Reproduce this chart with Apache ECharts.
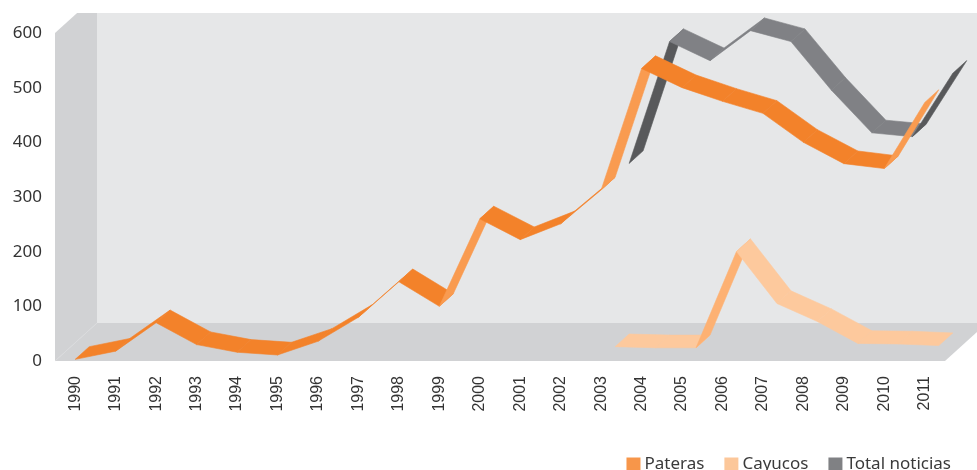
<!DOCTYPE html>
<html>
<head>
<meta charset="utf-8">
<script src="https://cdn.jsdelivr.net/npm/echarts@6/dist/echarts.min.js"></script>
<style>html,body{margin:0;padding:0;background:#fff}#c{width:977px;height:470px}</style>
</head>
<body>
<div id="c"></div>
<script>
// ---- data ----
const years = ['1990','1991','1992','1993','1994','1995','1996','1997','1998','1999','2000',
               '2001','2002','2003','2004','2005','2006','2007','2008','2009','2010','2011'];
const pateras = [3, 18, 70, 30, 16, 11, 36, 80, 145, 100, 260, 222, 251, 313, 535, 500, 475, 453, 400, 361, 352, 473];
const cayucos = [null, null, null, null, null, null, null, null, null, null, null, null, null,
                 3, 1, 1, 177, 82, 49, 9, 8, 5];
const totalNoticias = [null, null, null, null, null, null, null, null, null, null, null, null, null,
                 315, 538, 503, 558, 538, 449, 371, 364, 480];
const seriesNames = ['Pateras', 'Cayucos', 'Total noticias'];
const yMin = 0, yMax = 600, yStep = 100;

// ---- style / layout ----
const DEPTH_X = 42, DEPTH_Y = -38;          // full depth of the 3D box
const SLOTS = 3;
const SLOT_DX = DEPTH_X / SLOTS, SLOT_DY = DEPTH_Y / SLOTS;
const CLIP_TOP = 13;
const styles = {
  'Pateras':        { slot: 0, top: '#f3822a', under: '#f99b50', legend: '#f7964a' },
  'Cayucos':        { slot: 1, top: '#fdc99d', under: '#fdb173', legend: '#fcc79a' },
  'Total noticias': { slot: 2, top: '#808185', under: '#58595b', legend: '#808184' }
};

function segments(values) {
  const out = [];
  for (let i = 0; i < values.length - 1; i++) {
    if (values[i] != null && values[i + 1] != null) out.push([i, values[i], i + 1, values[i + 1]]);
  }
  return out;
}

function ribbonRender(name) {
  const st = styles[name];
  return function (params, api) {
    const a = api.coord([api.value(0), api.value(1)]);
    const b = api.coord([api.value(2), api.value(3)]);
    const k = st.slot;
    const fx = k * SLOT_DX, fy = k * SLOT_DY;
    const bx = (k + 1) * SLOT_DX, by = (k + 1) * SLOT_DY;
    const f0 = [a[0] + fx, a[1] + fy], f1 = [b[0] + fx, b[1] + fy];
    const b1 = [b[0] + bx, b[1] + by], b0 = [a[0] + bx, a[1] + by];
    const sx = b[0] - a[0], sy = b[1] - a[1];
    const cross = sx * SLOT_DY - sy * SLOT_DX;
    const col = cross < 0 ? st.top : st.under;
    return {
      type: 'polygon',
      shape: { points: [f0, f1, b1, b0] },
      style: { fill: col, stroke: col, lineWidth: 0.6 }
    };
  };
}

function wallsRender(params, api) {
  const cs = params.coordSys;
  const x = cs.x, y = cs.y, w = cs.width, h = cs.height;
  const t = (y - CLIP_TOP) / (-DEPTH_Y);
  const leftTopX = x + DEPTH_X * t;
  return {
    type: 'group',
    children: [
      { type: 'rect', shape: { x: x + DEPTH_X, y: CLIP_TOP, width: w + 10, height: y + h + DEPTH_Y - CLIP_TOP },
        style: { fill: '#e6e7e8' } },
      { type: 'polygon', shape: { points: [[x, y + h], [x, y], [leftTopX, CLIP_TOP], [x + DEPTH_X, CLIP_TOP], [x + DEPTH_X, y + h + DEPTH_Y]] },
        style: { fill: '#d1d2d4' } },
      { type: 'polygon', shape: { points: [[x, y + h], [x + w, y + h], [x + w + DEPTH_X, y + h + DEPTH_Y], [x + DEPTH_X, y + h + DEPTH_Y]] },
        style: { fill: '#d1d2d4' } },
      { type: 'line', shape: { x1: x, y1: y + h, x2: x + DEPTH_X, y2: y + h + DEPTH_Y },
        style: { stroke: '#dadbdd', lineWidth: 1 } }
    ]
  };
}

const chart = echarts.init(document.getElementById('c'), null, { renderer: 'canvas' });
const seriesData = { 'Pateras': pateras, 'Cayucos': cayucos, 'Total noticias': totalNoticias };

const ribbonSeries = ['Total noticias', 'Cayucos', 'Pateras'].map((name, idx) => ({
  type: 'custom',
  name: name,
  clip: false,
  z: 3 + idx,
  silent: true,
  itemStyle: { color: styles[name].legend },
  renderItem: ribbonRender(name),
  encode: { x: [0, 2], y: [1, 3] },
  data: segments(seriesData[name])
}));

chart.setOption({
  animation: false,
  backgroundColor: '#ffffff',
  grid: { left: 55, right: 32, top: 33, bottom: 109, containLabel: false },
  xAxis: {
    type: 'category',
    data: years,
    boundaryGap: true,
    axisLine: { show: false },
    axisTick: { show: false },
    splitLine: { show: false },
    axisLabel: {
      interval: 0, rotate: 90, margin: 15,
      fontFamily: 'Liberation Sans', fontSize: 16, color: '#333333'
    }
  },
  yAxis: {
    type: 'value',
    min: yMin, max: yMax, interval: yStep,
    axisLine: { show: false },
    axisTick: { show: false },
    splitLine: { show: false },
    axisLabel: { margin: 13, fontFamily: 'Noto Sans', fontSize: 17, color: '#333333' }
  },
  legend: {
    data: seriesNames.map(n => ({ name: n, icon: 'rect', itemStyle: { color: styles[n].legend } })),
    right: 21, top: 451,
    itemWidth: 14, itemHeight: 14, itemGap: 20,
    textStyle: { fontFamily: 'Noto Sans', fontSize: 17, color: '#3a3a3a', padding: [0, 0, 0, -1] },
    selectedMode: false
  },
  series: [{
    type: 'custom',
    name: 'walls',
    clip: false,
    z: 1,
    silent: true,
    renderItem: wallsRender,
    data: [[0, 0]]
  }].concat(ribbonSeries)
});
</script>
</body>
</html>
